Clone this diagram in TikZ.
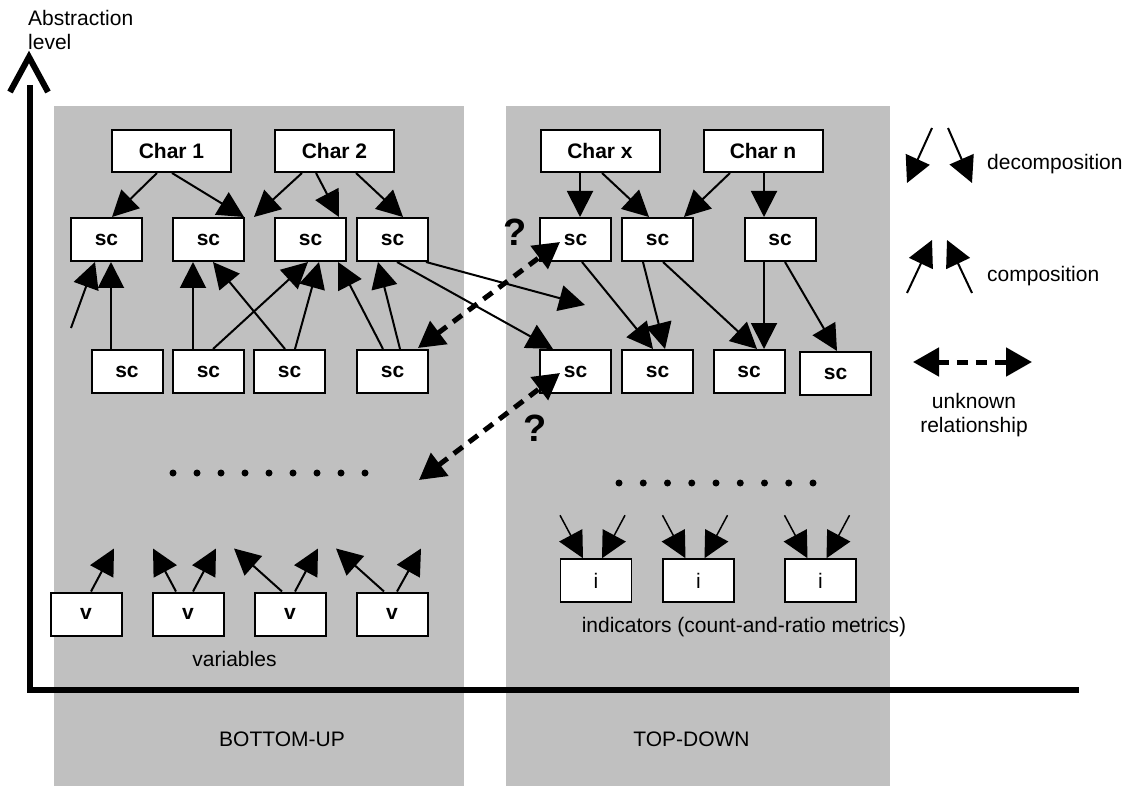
\documentclass[tikz,border=0pt]{standalone}
\usepackage{fontspec}
\setmainfont{Liberation Sans}
\usetikzlibrary{arrows.meta}
\definecolor{panel}{RGB}{192,192,192}

\begin{document}
\begin{tikzpicture}[x=1pt,y=-1pt,
    every node/.style={font=\fontsize{21}{24}\selectfont},
    label/.style={inner sep=0pt},
    char/.style={draw,fill=white,line width=2pt,minimum width=119pt,minimum height=42pt,inner sep=0pt,font=\bfseries\fontsize{21}{24}\selectfont},
    sc/.style={char,minimum width=71pt,minimum height=43pt},
    ind/.style={sc,line width=1.5pt,font=\fontsize{21}{24}\selectfont},
    arr/.style={-{Triangle[length=26pt,width=26pt]},line width=2pt},
    unk/.style={{Triangle[length=26pt,width=28pt]}-{Triangle[length=26pt,width=28pt]},line width=5pt,dash pattern=on 11pt off 8pt},
    axis/.style={line width=6pt},
    dots/.style={line width=7pt,line cap=round,dash pattern=on 0pt off 24pt},
    qmark/.style={label,font=\bfseries\fontsize{38}{40}\selectfont}]
    \useasboundingbox (0,0) rectangle (1132,786);

    % the two approaches
    \fill[panel] (54,106) rectangle (464,786);
    \fill[panel] (506,106) rectangle (890,786);

    % axes
    \coordinate (ytop) at (30,85);
    \coordinate (orig) at (30,690);
    \coordinate (xend) at (1079,690);
    \draw[axis] (ytop) -- (orig) -- (xend);
    \draw[axis] (10,92) -- (29,57) -- (48,92);
    \node[label,anchor=north west,align=left] (abs) at (28,10) {Abstraction\\level};

    % bottom-up side
    \node[char] (c1) at (171.5,151) {Char 1};
    \node[char] (c2) at (334.5,151) {Char 2};
    \node[sc] (s1) at (106.5,239.5) {sc};
    \node[sc] (s2) at (208.5,239.5) {sc};
    \node[sc] (s3) at (310.5,239.5) {sc};
    \node[sc] (s4) at (392.5,239.5) {sc};
    \node[sc] (s5) at (127,371.5) {sc};
    \node[sc] (s6) at (208.5,371.5) {sc};
    \node[sc] (s7) at (289.5,371.5) {sc};
    \node[sc] (s8) at (392.5,371.5) {sc};
    \node[sc] (v1) at (86,614) {v};
    \node[sc] (v2) at (188,614) {v};
    \node[sc] (v3) at (290,614) {v};
    \node[sc] (v4) at (392,614) {v};
    \node[label,anchor=base] (var) at (234.5,666) {variables};
    \node[label,anchor=base] (bu) at (282,746) {BOTTOM-UP};
    \draw[dots] (173,473) -- (366,473);

    % top-down side
    \node[char] (cx) at (600,151) {Char x};
    \node[char] (cn) at (763,151) {Char n};
    \node[sc] (t1) at (575.5,239.5) {sc};
    \node[sc] (t2) at (657.5,239.5) {sc};
    \node[sc] (t3) at (780,239.5) {sc};
    \node[sc] (t4) at (575.5,371.5) {sc};
    \node[sc] (t5) at (657.5,371.5) {sc};
    \node[sc] (t6) at (749,371.5) {sc};
    \node[sc] (t7) at (835.5,373.5) {sc};
    \node[ind] (i1) at (596,580.5) {i};
    \node[ind] (i2) at (698.5,580.5) {i};
    \node[ind] (i3) at (820.5,580.5) {i};
    \node[label,anchor=base] (ind) at (744,632) {indicators (count-and-ratio metrics)};
    \node[label,anchor=base] (td) at (691.5,746) {TOP-DOWN};
    \draw[dots,dash pattern=on 0pt off 24.25pt] (619,483) -- (814,483);

    % free ends
    \coordinate (f1) at (254,217);
    \coordinate (f2) at (71,328);
    \coordinate (f3) at (585,305);
    \coordinate (f4) at (419,480);

    % decomposition, bottom-up
    \path[arr] ([xshift=-14.5pt]c1.south) edge ([xshift=5.5pt]s1.north)
               ([xshift=0.5pt]c1.south) edge ([xshift=-1pt]s2.north east)
               ([xshift=-32.5pt]c2.south) edge (f1)
               ([xshift=-18.5pt]c2.south) edge ([xshift=28.5pt]s3.north)
               ([xshift=21.5pt]c2.south) edge ([xshift=10.5pt]s4.north)
               ([xshift=33.5pt]s4.south) edge (f3)
               ([xshift=4.5pt]s4.south) edge ([xshift=-22.5pt]t4.north);

    % composition, bottom-up
    \path[arr] (f2) edge ([xshift=-11.5pt]s1.south)
               ([xshift=-16pt]s5.north) edge ([xshift=4.5pt]s1.south)
               ([xshift=-15.5pt]s6.north) edge ([xshift=-15.5pt]s2.south)
               ([xshift=-4.5pt]s7.north) edge ([xshift=4.5pt]s2.south)
               ([xshift=4.5pt]s6.north) edge ([xshift=-2.5pt]s3.south)
               ([xshift=5.5pt]s7.north) edge ([xshift=8.5pt]s3.south)
               ([xshift=-9.5pt]s8.north) edge ([xshift=27.5pt]s3.south)
               ([xshift=7.5pt]s8.north) edge ([xshift=-14.5pt]s4.south);
    \draw[arr] ([xshift=5pt]v1.north) -- ++(23,-43);
    \draw[arr] ([xshift=-12pt]v2.north) -- ++(-23,-43);
    \draw[arr] ([xshift=5pt]v2.north) -- ++(23,-43);
    \draw[arr] ([xshift=-8pt]v3.north) -- ++(-48,-43);
    \draw[arr] ([xshift=5pt]v3.north) -- ++(23,-43);
    \draw[arr] ([xshift=-8pt]v4.north) -- ++(-48,-43);
    \draw[arr] ([xshift=5pt]v4.north) -- ++(24,-43);

    % decomposition, top-down
    \path[arr] ([xshift=-20pt]cx.south) edge ([xshift=4.5pt]t1.north)
               ([xshift=2pt]cx.south) edge ([xshift=-8.5pt]t2.north)
               ([xshift=-33pt]cn.south) edge ([xshift=26.5pt]t2.north)
               ([xshift=1pt]cn.south) edge ([xshift=-16pt]t3.north)
               ([xshift=6.5pt]t1.south) edge ([xshift=-4.5pt]t5.north)
               ([xshift=-14.5pt]t2.south) edge ([xshift=7.5pt]t5.north)
               ([xshift=5.5pt]t2.south) edge ([xshift=8pt]t6.north)
               ([xshift=-16pt]t3.south) edge ([xshift=15pt]t6.north)
               ([xshift=5pt]t3.south) edge ([xshift=1.5pt]t7.north);
    \foreach \n in {i1,i2,i3} {
        \draw[arr,line width=1.5pt] ([xshift=-36pt,yshift=43pt]\n.north) -- ([xshift=-13pt]\n.north);
        \draw[arr,line width=1.5pt] ([xshift=29pt,yshift=43pt]\n.north) -- ([xshift=6pt]\n.north);
    }

    % unknown relationships
    \draw[unk] ([xshift=25.5pt,yshift=1pt]s8.north) -- ([xshift=-15.5pt,yshift=-2.5pt]t1.center);
    \draw[unk] (f4) -- ([xshift=-15.5pt,yshift=-1.5pt]t4.center);
    \node[qmark] (q1) at (515,232) {?};
    \node[qmark] (q2) at (535,428) {?};

    % legend
    \node[label,anchor=base west] (dec) at (987,170) {decomposition};
    \node[label,anchor=base west] (comp) at (987,282) {composition};
    \node[label,anchor=base,align=center] (rel) at (974,432) {unknown\\relationship};
    \draw[arr] ([xshift=-55pt,yshift=42pt]dec.base west) -- ++(-25,55);
    \draw[arr] ([xshift=-39pt,yshift=42pt]dec.base west) -- ++(24,55);
    \draw[arr] ([xshift=-80pt,yshift=-11pt]comp.base west) -- ++(25,-53);
    \draw[arr] ([xshift=-15pt,yshift=-11pt]comp.base west) -- ++(-25,-53);
    \coordinate (u1) at (913,362);
    \coordinate (u2) at (1032,362);
    \draw[unk] (u1) -- (u2);
\end{tikzpicture}
\end{document}
